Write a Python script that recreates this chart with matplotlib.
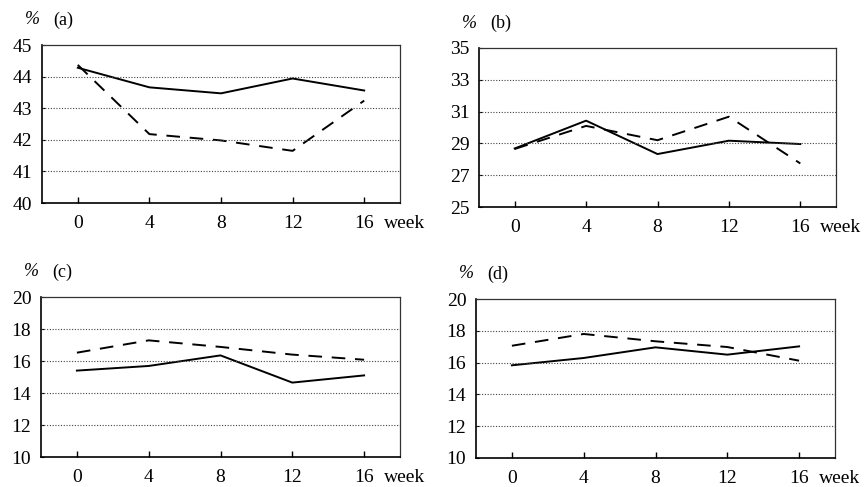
import matplotlib
matplotlib.use("Agg")
import matplotlib.pyplot as plt

plt.rcParams["font.family"] = ["Liberation Serif", "DejaVu Serif"]

weeks = [0, 4, 8, 12, 16]

a_solid = [44.28, 43.66, 43.47, 43.94, 43.56]
a_dashed = [44.37, 42.18, 41.98, 41.65, 43.24]
b_solid = [28.68, 30.43, 28.33, 29.17, 28.96]
b_dashed = [28.65, 30.10, 29.20, 30.68, 27.74]
c_solid = [15.40, 15.69, 16.35, 14.65, 15.10]
c_dashed = [16.52, 17.29, 16.88, 16.40, 16.08]
d_solid = [15.83, 16.29, 16.96, 16.50, 17.02]
d_dashed = [17.06, 17.80, 17.34, 16.98, 16.12]

panel_labels = ["(a)", "(b)", "(c)", "(d)"]
y_ticks = [
    [40, 41, 42, 43, 44, 45],
    [25, 27, 29, 31, 33, 35],
    [10, 12, 14, 16, 18, 20],
    [10, 12, 14, 16, 18, 20],
]
series = [
    (a_solid, a_dashed),
    (b_solid, b_dashed),
    (c_solid, c_dashed),
    (d_solid, d_dashed),
]

W, H = 864.0, 487.0
# (left, right, top, bottom) in pixels
boxes = [
    (42, 400, 45, 203),
    (479, 836, 48, 207),
    (41, 400, 297, 457),
    (476, 835, 299, 458),
]

figure = plt.figure(figsize=(W / 100, H / 100), dpi=100)

for label, ticks, (solid, dashed), (x0, x1, y0, y1) in zip(
        panel_labels, y_ticks, series, boxes):
    ax = figure.add_axes([x0 / W, 1 - y1 / H, (x1 - x0) / W, (y1 - y0) / H])
    ax.plot(weeks, solid, color="black", linewidth=1.4)
    ax.plot(weeks, dashed, color="black", linewidth=1.4, dashes=(7, 5))

    ax.set_xlim(-2, 18)
    ax.set_ylim(ticks[0], ticks[-1])
    ax.set_xticks(weeks)
    ax.set_yticks(ticks)
    for value in ticks[1:-1]:
        ax.axhline(value, color="#444444", linewidth=0.8, linestyle=(0, (1, 1.5)))

    ax.tick_params(axis="x", direction="in", length=4, width=1.0,
                   labelsize=14, pad=8.5)
    ax.tick_params(axis="y", direction="in", length=2, labelsize=14, pad=7)

    for side in ["left", "bottom"]:
        ax.spines[side].set_linewidth(1.2)
    for side in ["top", "right"]:
        ax.spines[side].set_linewidth(0.9)
        ax.spines[side].set_color("#333333")

    # "%  (x)" header above the y axis
    ax.annotate("%", xy=(0, 1), xycoords="axes fraction", xytext=(-7, 18),
                textcoords="offset points", fontsize=13, style="italic",
                ha="center", va="center")
    ax.annotate(label, xy=(0, 1), xycoords="axes fraction", xytext=(8, 18),
                textcoords="offset points", fontsize=13,
                ha="left", va="center")
    ax.annotate("week", xy=(weeks[-1], 0), xycoords=("data", "axes fraction"),
                xytext=(14, -8.5), textcoords="offset points",
                fontsize=14, ha="left", va="top")

figure.savefig("out.png", dpi=100)
